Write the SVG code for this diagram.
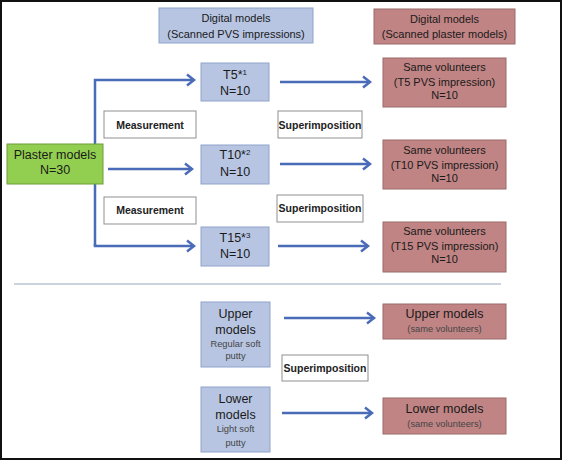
<svg xmlns="http://www.w3.org/2000/svg" width="562" height="460" viewBox="0 0 562 460">
<defs>
<style>
text{font-family:"Liberation Sans",Arial,sans-serif;fill:#1a1a1a;text-anchor:middle}
.b{fill:#b7c5e2;stroke:#8fa3cc;stroke-width:1}
.r{fill:#c08484;stroke:#9b6b6b;stroke-width:1}
.g{fill:#92cf50;stroke:#6c9c38;stroke-width:1}
.w{fill:#fff;stroke:#8f8f8f;stroke-width:1}
.t11{font-size:11px}
.t12{font-size:12.5px}
.t13{font-size:12.5px}
.t9{font-size:9.3px;fill:#444}
.m{font-size:10.5px;font-weight:bold;fill:#222}
.c{fill:none;stroke:#4a6cb8;stroke-width:2.5}
</style>
<marker id="ah" markerUnits="userSpaceOnUse" markerWidth="14" markerHeight="14" refX="10" refY="7" orient="auto">
<path d="M3,1.5 L10,7 L3,12.5" fill="none" stroke="#4a6cb8" stroke-width="2.5" stroke-linejoin="miter"/>
</marker>
</defs>
<rect x="1" y="1" width="560" height="458" fill="#fff" stroke="#111" stroke-width="2"/>

<g id="connectors">
<path class="c" d="M95,246 V80 H194" marker-end="url(#ah)"/>
<path class="c" d="M108,169 H192" marker-end="url(#ah)"/>
<path class="c" d="M95,244 V246 H194" marker-end="url(#ah)"/>
<path class="c" d="M280,82 H370" marker-end="url(#ah)"/>
<path class="c" d="M280,164 H370" marker-end="url(#ah)"/>
<path class="c" d="M278,246 H368" marker-end="url(#ah)"/>
<path class="c" d="M284,318 H374" marker-end="url(#ah)"/>
<path class="c" d="M282,413 H372" marker-end="url(#ah)"/>
<line x1="14" y1="284" x2="501" y2="284" stroke="#9aa5bd" stroke-width="1.2"/>
</g>

<g id="hdr-pvs"><rect class="b" x="159" y="8" width="154" height="35"/>
<text class="t11" x="236" y="22">Digital models</text><text class="t11" x="236" y="38">(Scanned PVS impressions)</text></g>
<g id="hdr-plaster"><rect class="r" x="374" y="9" width="141" height="35"/>
<text class="t11" x="444.5" y="23">Digital models</text><text class="t11" x="444.5" y="38">(Scanned plaster models)</text></g>

<g id="plaster"><rect class="g" x="7" y="144" width="96" height="40"/>
<text class="t12" x="55" y="159">Plaster models</text><text class="t12" x="55" y="174">N=30</text></g>

<g id="t5"><rect class="b" x="201" y="63" width="68" height="38"/>
<text class="t12" x="235" y="79">T5*<tspan font-size="8" dy="-4">1</tspan></text><text class="t12" x="235" y="95">N=10</text></g>
<g id="t10"><rect class="b" x="201" y="145" width="68" height="39"/>
<text class="t12" x="235" y="159">T10*<tspan font-size="8" dy="-4">2</tspan></text><text class="t12" x="235" y="176">N=10</text></g>
<g id="t15"><rect class="b" x="201" y="227" width="68" height="39"/>
<text class="t12" x="235" y="242">T15*<tspan font-size="8" dy="-4">3</tspan></text><text class="t12" x="235" y="258">N=10</text></g>

<g id="sv5"><rect class="r" x="383" y="58" width="123" height="49"/>
<text class="t11" x="444.5" y="71">Same volunteers</text><text class="t11" x="444.5" y="86">(T5 PVS impression)</text><text class="t11" x="444.5" y="99">N=10</text></g>
<g id="sv10"><rect class="r" x="383" y="140" width="123" height="49"/>
<text class="t11" x="444.5" y="154">Same volunteers</text><text class="t11" x="444.5" y="169">(T10 PVS impression)</text><text class="t11" x="444.5" y="182">N=10</text></g>
<g id="sv15"><rect class="r" x="383" y="222" width="123" height="50"/>
<text class="t11" x="444.5" y="235">Same volunteers</text><text class="t11" x="444.5" y="250">(T15 PVS impression)</text><text class="t11" x="444.5" y="263">N=10</text></g>

<g id="meas1"><rect class="w" x="104" y="111" width="92" height="27"/><text class="m" x="150" y="129">Measurement</text></g>
<g id="meas2"><rect class="w" x="104" y="197" width="92" height="27"/><text class="m" x="150" y="214">Measurement</text></g>
<g id="sup1"><rect class="w" x="278" y="111" width="84" height="27"/><text class="m" x="320" y="129">Superimposition</text></g>
<g id="sup2"><rect class="w" x="277" y="195" width="86" height="27"/><text class="m" x="320" y="212">Superimposition</text></g>
<g id="sup3"><rect class="w" x="282" y="355" width="86" height="26"/><text class="m" x="325" y="372">Superimposition</text></g>

<g id="upper"><rect class="b" x="201" y="302" width="69" height="65"/>
<text class="t13" x="235.5" y="318">Upper</text><text class="t13" x="235.5" y="334">models</text>
<text class="t9" x="235.5" y="347">Regular soft</text><text class="t9" x="235.5" y="359">putty</text></g>
<g id="lower"><rect class="b" x="201" y="387" width="69" height="65"/>
<text class="t13" x="235.5" y="403">Lower</text><text class="t13" x="235.5" y="419">models</text>
<text class="t9" x="235.5" y="432">Light soft</text><text class="t9" x="235.5" y="446">putty</text></g>

<g id="upper-r"><rect class="r" x="383" y="304" width="123" height="35"/>
<text class="t13" x="444.5" y="318">Upper models</text><text class="t9" x="444.5" y="332">(same volunteers)</text></g>
<g id="lower-r"><rect class="r" x="383" y="398" width="123" height="36"/>
<text class="t13" x="444.5" y="413">Lower models</text><text class="t9" x="444.5" y="427">(same volunteers)</text></g>
</svg>
